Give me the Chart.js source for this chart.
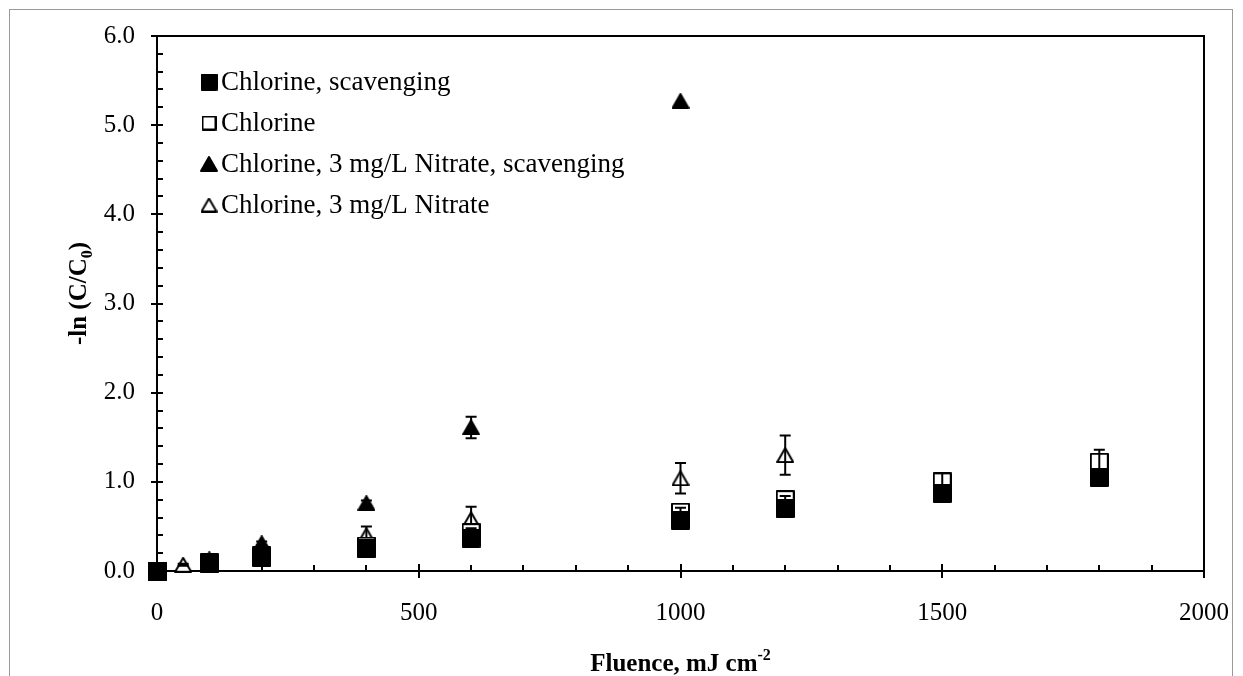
<!DOCTYPE html>
<html>
<head>
<meta charset="utf-8">
<script src="https://cdn.jsdelivr.net/npm/chart.js@4.4.0/dist/chart.umd.min.js"></script>
<style>
  html, body { margin: 0; padding: 0; background: #fff; overflow: hidden; }
  #moldura { position: absolute; left: 9px; top: 9px; width: 1222px; height: 720px; border: 1px solid #9a9a9a; }
  #caixa { position: absolute; left: 0; top: 0; width: 1243px; height: 676px; }
</style>
</head>
<body>
<div id="moldura"></div>
<div id="caixa"><canvas id="grafico" width="1243" height="676"></canvas></div>
<script>
// valores

const nomesSeries = ['Chlorine, scavenging', 'Chlorine', 'Chlorine, 3 mg/L Nitrate, scavenging', 'Chlorine, 3 mg/L Nitrate'];

const xQuadCheio = [0, 100, 200, 400, 600, 1000, 1200, 1500, 1800];
const yQuadCheio = [0, 0.08, 0.15, 0.25, 0.37, 0.57, 0.70, 0.87, 1.05];
const errQuadCheio = [0, 0.01, 0.02, 0.03, 0.03, 0.04, 0.04, 0.03, 0.03];

const xQuadVazio = [0, 100, 200, 400, 600, 1000, 1200, 1500, 1800];
const yQuadVazio = [0, 0.09, 0.17, 0.28, 0.43, 0.66, 0.80, 1.00, 1.22];
const errQuadVazio = [0, 0.01, 0.02, 0.05, 0.05, 0.05, 0.04, 0.10, 0.14];

const xTriCheio = [0, 100, 200, 400, 600, 1000];
const yTriCheio = [0, 0.13, 0.31, 0.76, 1.61, 5.27];
const errTriCheio = [0, 0.01, 0.02, 0.03, 0.12, 0];

const xTriVazio = [0, 50, 100, 200, 400, 600, 1000, 1200];
const yTriVazio = [0, 0.07, 0.10, 0.20, 0.40, 0.58, 1.04, 1.30];
const errTriVazio = [0, 0.01, 0.01, 0.02, 0.10, 0.14, 0.17, 0.22];

const xTicks = ['0', '500', '1000', '1500', '2000'];
const yTicks = ['0.0', '1.0', '2.0', '3.0', '4.0', '5.0', '6.0'];

const fonte = 'Liberation Serif';

function pontos(xs, ys) {
  let lista = [];
  for (let i = 0; i < xs.length; i++) {
    lista.push({ x: xs[i], y: ys[i] });
  }
  return lista;
}

// desenha o marcador num canvas pequeno (centrado pela caixa)
function marcador(tipo, cheio, w, h) {
  const c = document.createElement('canvas');
  c.width = w;
  c.height = h;
  const g = c.getContext('2d');
  g.lineWidth = 2;
  g.strokeStyle = '#000';
  g.fillStyle = cheio ? '#000' : '#fff';
  g.lineJoin = 'round';
  g.beginPath();
  if (tipo === 'quad') {
    g.rect(1, 1, w - 2, h - 2);
  } else {
    g.moveTo(w / 2, 1);
    g.lineTo(w - 1, h - 1);
    g.lineTo(1, h - 1);
    g.closePath();
  }
  g.fill();
  g.stroke();
  return c;
}

const marcadores = [
  marcador('quad', true, 19, 19),
  marcador('quad', false, 19, 19),
  marcador('tri', true, 18, 16),
  marcador('tri', false, 18, 16),
];
const marcadoresLegenda = [
  marcador('quad', true, 17, 17),
  marcador('quad', false, 15, 15),
  marcador('tri', true, 18, 16),
  marcador('tri', false, 17, 15),
];

// barras de erro, marcas dos eixos, titulos e legenda
const decoracao = {
  id: 'decoracao',
  afterDatasetDraw(chart, args) {
    const ds = chart.data.datasets[args.index];
    const sx = chart.scales.x;
    const sy = chart.scales.y;
    const c = chart.ctx;
    c.save();
    c.strokeStyle = '#000';
    c.lineWidth = 2;
    ds.data.forEach((p, i) => {
      const e = ds.erros[i];
      if (!e) return;
      const px = sx.getPixelForValue(p.x);
      const y1 = sy.getPixelForValue(p.y + e);
      const y2 = sy.getPixelForValue(p.y - e);
      c.beginPath();
      c.moveTo(px, y1); c.lineTo(px, y2);
      c.moveTo(px - 5.5, y1); c.lineTo(px + 5.5, y1);
      c.moveTo(px - 5.5, y2); c.lineTo(px + 5.5, y2);
      c.stroke();
    });
    c.restore();
  },
  afterDraw(chart) {
    const c = chart.ctx;
    const a = chart.chartArea;
    const sx = chart.scales.x;
    const sy = chart.scales.y;
    c.save();
    c.strokeStyle = '#000';
    c.lineWidth = 2;
    c.beginPath();
    c.moveTo(a.left, a.top); c.lineTo(a.right, a.top); c.lineTo(a.right, a.bottom);
    // marcas do eixo x
    for (let v = 0; v <= 2000; v += 100) {
      const px = Math.round(sx.getPixelForValue(v));
      if (v % 500 === 0) { c.moveTo(px, a.bottom - 7); c.lineTo(px, a.bottom + 7); }
      else { c.moveTo(px, a.bottom - 6); c.lineTo(px, a.bottom); }
    }
    // marcas do eixo y
    for (let k = 0; k <= 30; k++) {
      const py = Math.round(sy.getPixelForValue(k / 5));
      if (k % 5 === 0) { c.moveTo(a.left - 6, py); c.lineTo(a.left + 6, py); }
      else { c.moveTo(a.left, py); c.lineTo(a.left + 6, py); }
    }
    c.stroke();
    c.restore();

    // titulos dos eixos
    c.save();
    c.fillStyle = '#000';
    c.textBaseline = 'alphabetic';
    const fT = 'bold 25px "' + fonte + '"';
    const fP = 'bold 16px "' + fonte + '"';
    c.font = fT;
    const t1 = 'Fluence, mJ cm';
    c.font = fP;
    const t2 = '-2';
    const w2 = c.measureText(t2).width;
    c.font = fT;
    const w1 = c.measureText(t1).width;
    const cx = (a.left + a.right) / 2;
    let x0 = cx - (w1 + w2) / 2;
    c.fillText(t1, x0, 671);
    c.font = fP;
    c.fillText(t2, x0 + w1, 660);

    c.translate(86, (a.top + a.bottom) / 2 - 10);
    c.rotate(-Math.PI / 2);
    c.font = fT;
    const s1 = '-ln (C/C';
    const s3 = ')';
    const ws1 = c.measureText(s1).width;
    const ws3 = c.measureText(s3).width;
    c.font = fP;
    const ws2 = c.measureText('0').width;
    x0 = -(ws1 + ws2 + ws3) / 2;
    c.font = fT;
    c.fillText(s1, x0, 0);
    c.font = fP;
    c.fillText('0', x0 + ws1, 6);
    c.font = fT;
    c.fillText(s3, x0 + ws1 + ws2, 0);
    c.restore();

    // legenda
    c.save();
    c.fillStyle = '#000';
    c.font = '27px "' + fonte + '"';
    c.textBaseline = 'middle';
    const linhas = [82, 123, 164, 205];
    chart.data.datasets.forEach((ds, i) => {
      const m = marcadoresLegenda[i];
      c.drawImage(m, 209 - m.width / 2, linhas[i] - m.height / 2);
      c.fillText(ds.label, 221, linhas[i] + 1);
    });
    c.restore();
  }
};

function serie(i, xs, ys, es, ordem) {
  return {
    label: nomesSeries[i],
    data: pontos(xs, ys),
    erros: es,
    pointStyle: marcadores[i],
    pointRadius: 10,
    pointHoverRadius: 10,
    showLine: false,
    clip: false,
    order: ordem,
  };
}

const ctx = document.getElementById('grafico');
new Chart(ctx, {
  type: 'scatter',
  data: {
    datasets: [
      serie(0, xQuadCheio, yQuadCheio, errQuadCheio, 1),
      serie(1, xQuadVazio, yQuadVazio, errQuadVazio, 2),
      serie(2, xTriCheio, yTriCheio, errTriCheio, 3),
      serie(3, xTriVazio, yTriVazio, errTriVazio, 4),
    ],
  },
  options: {
    responsive: false,
    animation: false,
    layout: { padding: { left: 0, right: 39, top: 36, bottom: 0 } },
    plugins: {
      legend: { display: false },
      tooltip: { enabled: false },
    },
    scales: {
      x: {
        type: 'linear',
        min: 0,
        max: 2000,
        afterFit(s) {
          s.height = 105;
          s.paddingLeft = 0;
          s.paddingRight = 0;
        },
        afterBuildTicks(s) { s.ticks = xTicks.map(t => ({ value: Number(t) })); },
        ticks: {
          callback: (v, i) => xTicks[i],
          color: '#000',
          font: { family: fonte, size: 25 },
          padding: 19,
          maxRotation: 0,
        },
        grid: { display: false },
        border: { display: true, color: '#000', width: 2 },
      },
      y: {
        min: 0,
        max: 6,
        afterFit(s) {
          s.width = 157;
          s.paddingTop = 0;
          s.paddingBottom = 0;
        },
        afterBuildTicks(s) { s.ticks = yTicks.map(t => ({ value: Number(t) })); },
        ticks: {
          callback: (v, i) => yTicks[i],
          color: '#000',
          font: { family: fonte, size: 25 },
          padding: 14,
        },
        grid: { display: false },
        border: { display: true, color: '#000', width: 2 },
      },
    },
  },
  plugins: [decoracao],
});
</script>
</body>
</html>
